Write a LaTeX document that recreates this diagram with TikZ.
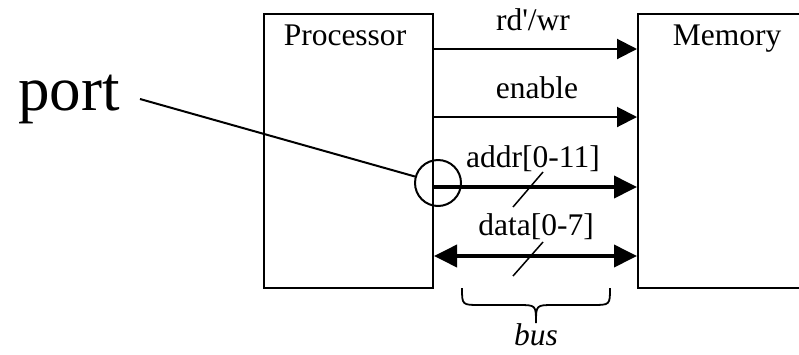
\documentclass[tikz,border=0pt]{standalone}
\usepackage{fontspec}
\setmainfont{Liberation Serif}
\usetikzlibrary{arrows.meta}
\begin{document}
\begin{tikzpicture}[x=1pt,y=-1pt,
  box/.style={draw,line width=2pt,inner sep=0pt},
  lbl/.style={font=\fontsize{31.5}{36}\selectfont,anchor=base,inner sep=0pt},
  sig/.style={line width=2pt,-{Triangle[length=20pt,width=20pt]}},
  busarrow/.style={line width=3.8pt,-{Triangle[length=23pt,width=22pt]}},
  busboth/.style={line width=3.8pt,{Triangle[length=23pt,width=22pt]}-{Triangle[length=23pt,width=22pt]}},
  slash/.style={line width=1.5pt}]
\useasboundingbox (0,0) rectangle (799,354);
\node[box,minimum width=169pt,minimum height=274pt] (proc) at (348.5,151) {};
\node[box,minimum width=182pt,minimum height=274pt] (mem) at (729,151) {};
\node[lbl] (ptxt) at (345,45) {Processor};
\node[lbl] (mtxt) at (727,45) {Memory};
\node[lbl] (l1) at (533,30) {rd\textquotesingle/wr};
\node[lbl] (l2) at (537,98) {enable};
\node[lbl] (l3) at (533,167) {addr[0-11]};
\node[lbl] (l4) at (536,235) {data[0-7]};
\node[font=\fontsize{63}{70}\selectfont,anchor=base west,inner sep=0pt] (port) at (18,110) {port};
\node[lbl,font=\fontsize{31.5}{36}\selectfont\itshape] (bus) at (536,345) {bus};
\draw[sig] (proc.east |- 0,49) -- (mem.west |- 0,49);
\draw[sig] (proc.east |- 0,117) -- (mem.west |- 0,117);
\draw[busarrow] (proc.east |- 0,187) -- (mem.west |- 0,187);
\draw[busboth] (proc.east |- 0,256) -- (mem.west |- 0,256);
\node[draw,circle,line width=2pt,minimum size=46pt,inner sep=0pt] (portc) at (438,183) {};
\coordinate (pl) at (140,99);
\draw[line width=2pt] (pl) -- (portc);
\coordinate (s1a) at (513,207);
\coordinate (s1b) at (543,172);
\coordinate (s2a) at (513,276);
\coordinate (s2b) at (543,242);
\draw[slash] (s1a) -- (s1b);
\draw[slash] (s2a) -- (s2b);
\coordinate (bl) at (462,288);
\coordinate (br) at (610,288);
\coordinate (bt) at (536,323);
\draw[line width=1.8pt] (bl) .. controls (462,305) .. (480,305) -- (518,305)
  .. controls (536,305) .. (bt) .. controls (536,305) .. (554,305) -- (592,305)
  .. controls (610,305) .. (br);
\end{tikzpicture}
\end{document}
